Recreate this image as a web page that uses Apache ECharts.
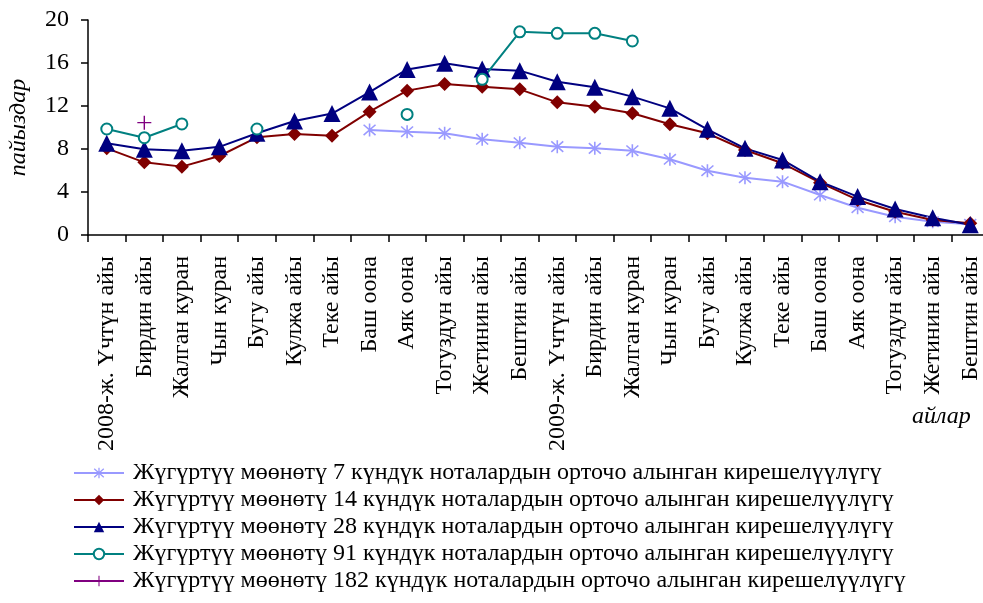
<!DOCTYPE html>
<html>
<head>
<meta charset="utf-8">
<script src="https://cdn.jsdelivr.net/npm/echarts@6/dist/echarts.min.js"></script>
<style>
html,body{margin:0;padding:0;background:#fff;}
#chart{width:983px;height:603px;}
</style>
</head>
<body>
<div id="chart"></div>
<script>
const months = ['2008-ж. Үчтүн айы','Бирдин айы','Жалган куран','Чын куран','Бугу айы','Кулжа айы','Теке айы','Баш оона','Аяк оона','Тогуздун айы','Жетинин айы','Бештин айы','2009-ж. Үчтүн айы','Бирдин айы','Жалган куран','Чын куран','Бугу айы','Кулжа айы','Теке айы','Баш оона','Аяк оона','Тогуздун айы','Жетинин айы','Бештин айы'];
const seriesNames = [
  'Жүгүртүү мөөнөтү 7 күндүк ноталардын орточо алынган кирешелүүлүгү',
  'Жүгүртүү мөөнөтү 14 күндүк ноталардын орточо алынган кирешелүүлүгү',
  'Жүгүртүү мөөнөтү 28 күндүк ноталардын орточо алынган кирешелүүлүгү',
  'Жүгүртүү мөөнөтү 91 күндүк ноталардын орточо алынган кирешелүүлүгү',
  'Жүгүртүү мөөнөтү 182 күндүк ноталардын орточо алынган кирешелүүлүгү'
];
const d7 = [null,null,null,null,null,null,null,9.77,9.61,9.46,8.9,8.59,8.22,8.06,7.84,7.04,5.98,5.33,4.96,3.72,2.54,1.7,1.24,1.0];
const d14 = [8.06,6.76,6.36,7.35,9.09,9.4,9.24,11.47,13.43,14.05,13.8,13.55,12.34,11.94,11.32,10.3,9.46,7.91,6.67,4.87,3.26,2.17,1.4,1.1];
const d28 = [8.53,7.97,7.84,8.2,9.46,10.6,11.3,13.3,15.4,15.97,15.44,15.29,14.26,13.74,12.87,11.78,9.83,8.06,6.98,4.96,3.57,2.42,1.61,0.95];
const d91 = [9.86,9.05,10.33,null,9.86,null,null,null,11.22,null,14.48,18.9,18.76,18.76,18.05,null,null,null,null,null,null,null,null,null];
const d182 = [null,10.45,null,null,null,null,null,null,null,null,null,null,null,null,null,null,null,null,null,null,null,null,null,null];
const yTicks = {min:0, max:20, interval:4};

const FONT = '"Liberation Serif","Times New Roman",serif';
const asterisk = 'path://M8.8 0 L11.2 0 L11.2 20 L8.8 20 Z M1.797 1.104 L19.797 17.104 L18.203 18.896 L0.203 2.896 Z M18.203 1.104 L19.797 2.896 L1.797 18.896 L0.203 17.104 Z';
const plus = 'path://M9 0 L11 0 L11 9 L20 9 L20 11 L11 11 L11 20 L9 20 L9 11 L0 11 L0 9 L9 9 Z';

const chart = echarts.init(document.getElementById('chart'), null, {renderer:'canvas'});
function line(name, data, color, symbol, size, extra) {
  return Object.assign({
    name: name, type: 'line', data: data, connectNulls: false,
    showAllSymbol: true, symbol: symbol, symbolSize: size,
    lineStyle: {color: color, width: 2},
    itemStyle: {color: color},
    emphasis: {disabled: true}, animation: false
  }, extra || {});
}
chart.setOption({
  animation: false,
  textStyle: {fontFamily: FONT},
  grid: {left: 88, right: -6, top: 20, bottom: 368, containLabel: false, outerBoundsMode: 'none'},
  xAxis: {
    type: 'category', data: months, boundaryGap: true,
    axisLine: {lineStyle: {color: '#000', width: 1.5}},
    axisTick: {show: true, interval: 0, length: 7, lineStyle: {color: '#000', width: 1.5}},
    axisLabel: {interval: 0, rotate: 90, margin: 21, fontSize: 24, color: '#000', fontFamily: FONT}
  },
  yAxis: {
    type: 'value', min: yTicks.min, max: yTicks.max, interval: yTicks.interval,
    name: 'пайыздар', nameLocation: 'middle', nameGap: 57, nameRotate: 90,
    nameTextStyle: {fontSize: 24, fontStyle: 'italic', color: '#000', fontFamily: FONT},
    axisLine: {show: true, lineStyle: {color: '#000', width: 1.5}},
    axisTick: {show: true, length: 7, lineStyle: {color: '#000', width: 1.5}},
    axisLabel: {margin: 19, fontSize: 24, color: '#000', fontFamily: FONT},
    splitLine: {show: false}
  },
  legend: {
    orient: 'vertical', left: 68, top: 456, itemWidth: 50, itemHeight: 13, itemGap: 3,
    textStyle: {fontSize: 24, color: '#000', fontFamily: FONT, lineHeight: 24, padding: [0,0,0,4]},
    data: seriesNames
  },
  graphic: [{
    type: 'text', left: 912, top: 405,
    style: {text: 'айлар', font: 'italic 24px "Liberation Serif"', fill: '#000'}
  }],
  series: [
    line(seriesNames[0], d7, '#9999FF', asterisk, 13),
    line(seriesNames[1], d14, '#800000', 'diamond', 14),
    line(seriesNames[2], d28, '#000080', 'triangle', 17),
    line(seriesNames[3], d91, '#008080', 'circle', 11, {itemStyle: {color: '#fff', borderColor: '#008080', borderWidth: 2}, lineStyle: {color: '#008080', width: 2}}),
    line(seriesNames[4], d182, '#800080', plus, 14)
  ]
});
</script>
</body>
</html>
